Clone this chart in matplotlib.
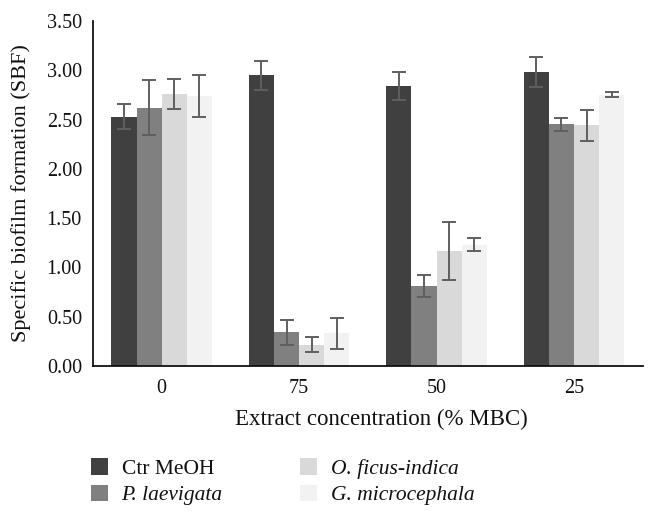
import matplotlib
matplotlib.use("Agg")
import matplotlib.pyplot as plt
import numpy as np

categories = ["0", "75", "50", "25"]
series_names = ["Ctr MeOH", "P. laevigata", "O. ficus-indica", "G. microcephala"]
ctr_meoh = [2.53, 2.95, 2.84, 2.98]
ctr_err = [0.13, 0.145, 0.14, 0.15]
p_laevigata = [2.62, 0.34, 0.81, 2.45]
p_laev_err = [0.28, 0.125, 0.11, 0.07]
o_ficus = [2.76, 0.215, 1.17, 2.44]
o_ficus_err = [0.15, 0.078, 0.295, 0.16]
g_micro = [2.74, 0.33, 1.23, 2.75]
g_micro_err = [0.21, 0.155, 0.067, 0.025]
y_ticks = [0.0, 0.5, 1.0, 1.5, 2.0, 2.5, 3.0, 3.5]

values = [ctr_meoh, p_laevigata, o_ficus, g_micro]
errors = [ctr_err, p_laev_err, o_ficus_err, g_micro_err]
colors = ["#404040", "#808080", "#d9d9d9", "#f2f2f2"]
italic = [False, True, True, True]

plt.rcParams['font.family'] = ['Liberation Serif', 'DejaVu Serif']

fig = plt.figure(figsize=(6.56, 5.21), dpi=100)
ax = fig.add_axes([0.1418, 0.2975, 0.838, 0.6622])

x = np.arange(len(categories))
w = 0.183
handles = []
for i, (vals, errs, c) in enumerate(zip(values, errors, colors)):
    pos = x + (i - 1.5) * w
    b = ax.bar(pos, vals, width=w, color=c, edgecolor='none', label=series_names[i])
    ax.errorbar(pos, vals, yerr=errs, fmt='none', ecolor='#5f5f5f', elinewidth=1.4,
                capsize=5, capthick=1.4)
    handles.append(b)

ax.set_xlim(-0.5, len(categories) - 0.5)
ax.set_ylim(0, 3.5)
ax.set_yticks(y_ticks)
ax.set_yticklabels([f"{t:.2f}" for t in y_ticks])
ax.set_xticks(x)
ax.set_xticklabels(categories)
ax.tick_params(axis='both', length=0, labelsize=14.5, colors='#111111')
ax.tick_params(axis='x', pad=9)
ax.tick_params(axis='y', pad=8)
for s in ['top', 'right']:
    ax.spines[s].set_visible(False)
for s in ['left', 'bottom']:
    ax.spines[s].set_linewidth(1.3)
    ax.spines[s].set_color('#111111')

ax.set_xlabel("Extract concentration (% MBC)", fontsize=16.5, labelpad=8, color='#111111')
ax.xaxis.label.set_x(0.525)
ax.set_ylabel("Specific biofilm formation (SBF)", fontsize=16, color='#111111')
ax.yaxis.set_label_coords(-0.113, 0.5)

leg = fig.legend(handles=handles, labels=series_names, ncol=2, loc='upper left',
                 bbox_to_anchor=(0.139, 0.12), frameon=False, fontsize=15.5,
                 handlelength=0.78, handleheight=0.78, handletextpad=0.63,
                 columnspacing=3.6, labelspacing=0.26, borderaxespad=0, borderpad=0)
for t, it in zip(leg.get_texts(), italic):
    t.set_color('#111111')
    if it:
        t.set_fontstyle('italic')

fig.savefig("out.png", dpi=100)
